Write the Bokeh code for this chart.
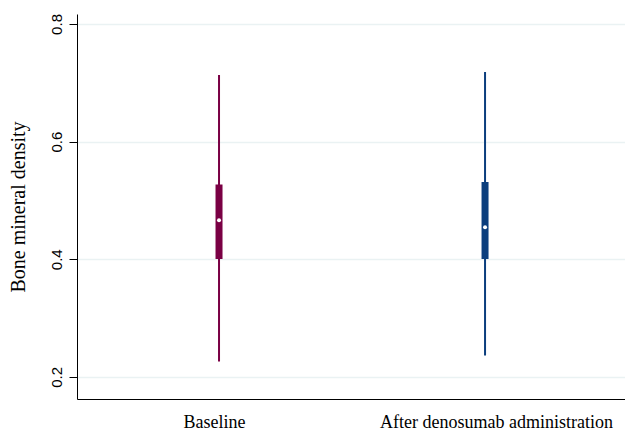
from bokeh.plotting import figure
from bokeh.models import Range1d, FixedTicker
from bokeh.embed import file_html
from bokeh.resources import INLINE

categories = ["Baseline", "After denosumab administration"]
lower_whisker = [0.227, 0.237]
q1 = [0.401, 0.401]
median = [0.467, 0.455]
q3 = [0.528, 0.532]
upper_whisker = [0.714, 0.719]
y_ticks = [0.2, 0.4, 0.6, 0.8]

colors = ["#7a0044", "#0b3e7d"]
x = [1, 2]
label_offsets = [-0.017, 0.043]
label_pos = [xi + off for xi, off in zip(x, label_offsets)]

p = figure(width=625, height=434, output_backend="svg", toolbar_location=None,
           x_range=Range1d(0.468, 2.528), y_range=Range1d(0.1623, 0.8169),
           min_border_left=77, min_border_right=0, min_border_top=14,
           min_border_bottom=33)
p.outline_line_color = None
p.background_fill_color = "white"
p.border_fill_color = "white"

p.segment(x, lower_whisker, x, upper_whisker, line_color=colors, line_width=2)
p.segment(x, q1, x, q3, line_color=colors, line_width=7)
p.scatter(x, median, size=4, fill_color="white", line_color=None)

# x axis
xa = p.xaxis[0]
xa.ticker = FixedTicker(ticks=label_pos)
xa.major_label_overrides = {pos: c for pos, c in zip(label_pos, categories)}
xa.major_tick_line_color = None
xa.major_tick_in = 0
xa.major_tick_out = 0
xa.minor_tick_line_color = None
xa.axis_line_color = "black"
xa.axis_line_width = 1
xa.major_label_text_font = "Liberation Serif"
xa.major_label_text_font_size = "18px"
xa.major_label_text_color = "black"
xa.major_label_standoff = 12

# y axis
ya = p.yaxis[0]
ya.ticker = FixedTicker(ticks=y_ticks)
ya.minor_tick_line_color = None
ya.major_tick_in = 0
ya.major_tick_out = 8
ya.major_tick_line_color = "black"
ya.axis_line_color = "black"
ya.major_label_orientation = "vertical"
ya.major_label_text_font = "Liberation Sans"
ya.major_label_text_font_size = "15px"
ya.major_label_text_color = "black"
ya.major_label_standoff = 7
ya.axis_label = "Bone mineral density"
ya.axis_label_text_font = "Liberation Serif"
ya.axis_label_text_font_style = "normal"
ya.axis_label_text_font_size = "20px"
ya.axis_label_text_color = "black"
ya.axis_label_standoff = 21

p.xgrid.grid_line_color = None
p.ygrid.grid_line_color = "#eaf2f3"
p.ygrid.grid_line_width = 1.5

open("out.html", "w").write(file_html(p, INLINE))
